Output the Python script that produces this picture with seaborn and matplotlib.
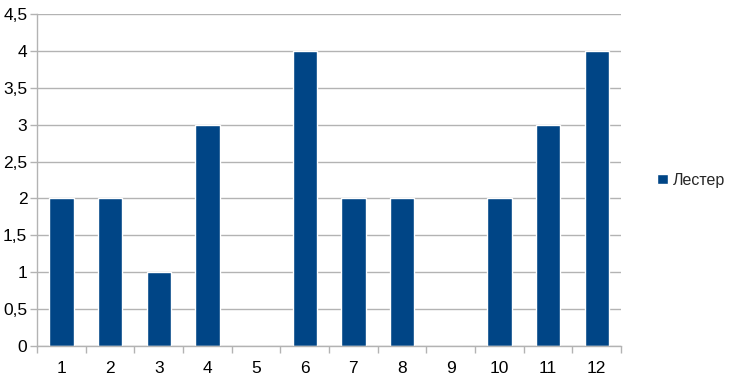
import matplotlib
matplotlib.use("Agg")
import matplotlib.pyplot as plt
import seaborn as sns
import pandas as pd
import numpy as np
from matplotlib.ticker import FixedLocator, FuncFormatter

categories = ["1", "2", "3", "4", "5", "6", "7", "8", "9", "10", "11", "12"]
values = [2, 2, 1, 3, 0, 4, 2, 2, 0, 2, 3, 4]
series_name = "Лестер"

df = pd.DataFrame({"cat": categories, "val": values, "series": series_name})

sns.set_theme(style="white")
plt.rcParams['font.family'] = ['Liberation Sans', 'DejaVu Sans']

fig = plt.figure(figsize=(7.3, 3.8), dpi=100)
ax = fig.add_axes([0.0507, 0.0895, 0.80, 0.8735])

sns.barplot(data=df, x="cat", y="val", hue="series", palette=["#004586"],
            width=0.5, ax=ax, saturation=1, legend=True)

ax.set_xlim(-0.5, len(categories) - 0.5)
ax.set_ylim(0, 4.5)
ax.set_yticks(np.arange(0, 4.51, 0.5))
ax.yaxis.set_major_formatter(FuncFormatter(lambda v, p: (f"{v:g}").replace(".", ",")))
ax.yaxis.grid(True, color="#b3b3b3", linewidth=1)
ax.set_axisbelow(True)
ax.set_xlabel("")
ax.set_ylabel("")

for s in ["top", "right"]:
    ax.spines[s].set_visible(False)
for s in ["left", "bottom"]:
    ax.spines[s].set_color("#b3b3b3")
    ax.spines[s].set_linewidth(1)

ax.xaxis.set_minor_locator(FixedLocator(np.arange(-0.5, len(categories), 1.0)))
ax.tick_params(axis="x", which="major", length=0, labelsize=12.5, colors="black", pad=11)
ax.tick_params(axis="x", which="minor", length=5, color="#b3b3b3", width=1, bottom=True)
ax.tick_params(axis="y", which="major", length=5, color="#b3b3b3", width=1, labelsize=12.5,
               labelcolor="black", left=True, pad=2)

leg = ax.legend(loc="center left", bbox_to_anchor=(1.043, 0.5), frameon=False,
                fontsize=11.5, handlelength=0.65, handleheight=0.65, handletextpad=0.35,
                borderpad=0.2)

fig.savefig("out.png", dpi=100)
